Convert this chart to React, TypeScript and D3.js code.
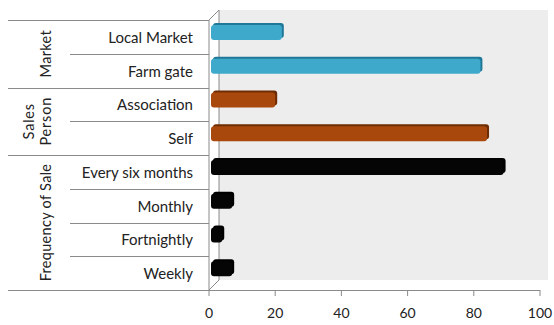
import React from "react";
import * as d3 from "d3";

const categories = ["Local Market", "Farm gate", "Association", "Self", "Every six months", "Monthly", "Fortnightly", "Weekly"];
const values = [22, 82, 20, 84, 89, 7, 4, 7];
const groupOf = ["Market", "Market", "Sales Person", "Sales Person", "Frequency of Sale", "Frequency of Sale", "Frequency of Sale", "Frequency of Sale"];
const groups = [
  { name: "Market", lines: ["Market"], start: 0, end: 2 },
  { name: "Sales Person", lines: ["Sales", "Person"], start: 2, end: 4 },
  { name: "Frequency of Sale", lines: ["Frequency of Sale"], start: 4, end: 8 },
];
const groupColors: Record<string, [string, string]> = {
  "Market": ["#3fa9cc", "#1f7898"],
  "Sales Person": ["#a9480c", "#6e2c04"],
  "Frequency of Sale": ["#050505", "#000000"],
};
const xTicks = [0, 20, 40, 60, 80, 100];

export default function App() {
  const W = 554, H = 325;
  const x = d3.scaleLinear().domain([0, 100]).range([209, 540]);
  const y = d3.scaleBand<number>().domain(d3.range(categories.length)).range([20, 290]);
  const dx = 10, dy = 10;
  const font = "Lato, 'Open Sans', sans-serif";
  const lineColor = "#8a8a8a";
  const bh = 15;
  return (
    <svg width={W} height={H} style={{ position: "absolute", left: 0, top: 0 }} fontFamily={font}>
      <rect x={0} y={0} width={W} height={H} fill="#ffffff" />
      {/* back wall */}
      <rect x={x(0) + dx} y={20 - dy} width={x(100) + 8 - x(0) - dx} height={270} fill="#ededed" />
      {/* wall edges */}
      <line x1={x(0) + dx} y1={20 - dy} x2={x(0) + dx} y2={290 - dy} stroke={lineColor} />
      <line x1={x(0)} y1={20} x2={x(0) + dx} y2={20 - dy} stroke={lineColor} />
      <line x1={x(0)} y1={290} x2={x(0) + dx} y2={290 - dy} stroke={lineColor} />
      <line x1={x(0)} y1={20} x2={x(0)} y2={290} stroke={lineColor} />
      {/* category separators */}
      {d3.range(categories.length + 1).map((i) => {
        const yy = i < categories.length ? (y(i) as number) : 290;
        const full = i === 0 || i === categories.length || groups.some((g) => g.start === i);
        return (
          <line key={"s" + i} x1={full ? 8 : 70} x2={x(0)} y1={Math.round(yy) + 0.5} y2={Math.round(yy) + 0.5} stroke={lineColor} />
        );
      })}
      {/* x axis */}
      <line x1={8} x2={x(100)} y1={290.5} y2={290.5} stroke={lineColor} />
      {xTicks.map((t) => (
        <g key={"t" + t}>
          <line x1={x(t)} x2={x(t)} y1={290} y2={296} stroke={lineColor} />
          <text x={x(t)} y={318} fontSize={14} textAnchor="middle" fill="#222">{t}</text>
        </g>
      ))}
      {/* bars */}
      {values.map((v, i) => {
        const [c, dark] = groupColors[groupOf[i]];
        const cy = (y(i) as number) + y.bandwidth() / 2 - 4.5;
        const x0 = x(0) + 2;
        const x1 = x(v);
        const w = Math.max(x1 - x0, 4);
        return (
          <g key={"b" + i}>
            <rect x={x0 + 2} y={cy - bh / 2 - 2} width={w} height={bh} rx={3} fill={dark} />
            <rect x={x0} y={cy - bh / 2} width={w} height={bh} rx={3} fill={c} />
          </g>
        );
      })}
      {/* category labels */}
      {categories.map((c, i) => (
        <text key={"c" + i} x={193} y={(y(i) as number) + y.bandwidth() / 2} fontSize={15} textAnchor="end" dominantBaseline="central" fill="#222">{c}</text>
      ))}
      {/* group labels */}
      {groups.map((g) => {
        const cy = ((y(g.start) as number) + (g.end < categories.length ? (y(g.end) as number) : 290)) / 2;
        const n = g.lines.length;
        return g.lines.map((ln, k) => {
          const cx = n > 1 ? 28 + k * 17 : 45;
          return (
            <text key={g.name + k} x={cx} y={cy} transform={`rotate(-90 ${cx} ${cy})`} fontSize={14.5} textAnchor="middle" dominantBaseline="central" fill="#222" letterSpacing={n > 1 ? 0.8 : 0.3}>{ln}</text>
          );
        });
      })}
    </svg>
  );
}
